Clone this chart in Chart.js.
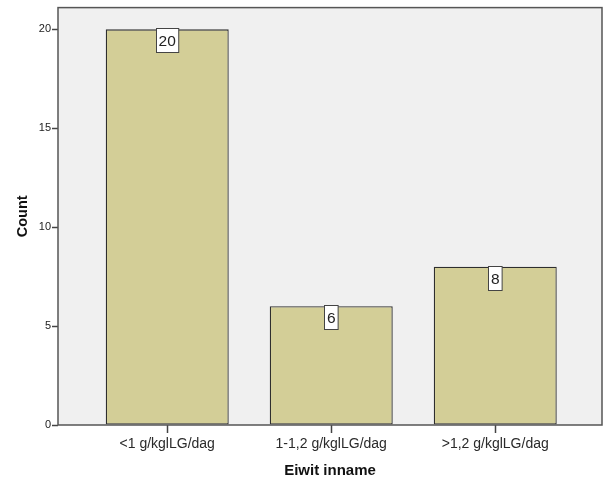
<!DOCTYPE html>
<html>
<head>
<meta charset="utf-8">
<script src="https://cdn.jsdelivr.net/npm/chart.js@4/dist/chart.umd.min.js"></script>
<style>
  html, body { margin: 0; padding: 0; background: #fff; }
  canvas { display: block; }
</style>
</head>
<body>
<canvas id="chart" width="606" height="480"></canvas>
<script>
// Data
const categories = ['<1 g/kglLG/dag', '1-1,2 g/kglLG/dag', '>1,2 g/kglLG/dag'];
const counts = [20, 6, 8];
const yTicks = [0, 5, 10, 15, 20];

const FONT = "'Liberation Sans', Arial, sans-serif";

// Gray plot background and frame, like SPSS output
const framePlugin = {
  id: 'frame',
  beforeDatasetsDraw(chart) {
    const { ctx, chartArea: a } = chart;
    ctx.save();
    ctx.fillStyle = '#f0f0f0';
    ctx.fillRect(a.left, a.top, a.right - a.left, a.bottom - a.top);
    ctx.restore();
  },
  afterDatasetsDraw(chart) {
    const { ctx, chartArea: a } = chart;
    ctx.save();
    ctx.strokeStyle = '#555';
    ctx.lineWidth = 1.5;
    ctx.strokeRect(a.left, a.top, a.right - a.left, a.bottom - a.top);
    ctx.restore();
  }
};

// White boxed value labels at the top of each bar
const labelPlugin = {
  id: 'boxLabels',
  afterDatasetsDraw(chart) {
    const { ctx } = chart;
    const meta = chart.getDatasetMeta(0);
    ctx.save();
    ctx.font = '15.5px ' + FONT;
    ctx.textAlign = 'center';
    ctx.textBaseline = 'middle';
    meta.data.forEach((bar, i) => {
      const txt = String(counts[i]);
      const w = ctx.measureText(txt).width + 5;
      const h = 24;
      const x = Math.round(bar.x - w / 2) + 0.5;
      const y = Math.round(bar.y) - 0.5;
      ctx.fillStyle = '#fff';
      ctx.fillRect(x, y, w, h);
      ctx.strokeStyle = '#444';
      ctx.lineWidth = 1;
      ctx.strokeRect(x, y, w, h);
      ctx.fillStyle = '#222';
      ctx.fillText(txt, bar.x, y + h / 2 + 1);
    });
    ctx.restore();
  }
};

new Chart(document.getElementById('chart').getContext('2d'), {
  type: 'bar',
  data: {
    datasets: [{
      data: categories.map((c, i) => ({ x: i, y: counts[i] })),
      backgroundColor: '#d3ce97',
      borderColor: '#2e2e2e',
      borderWidth: 1.3,
      borderSkipped: false,
      categoryPercentage: 1,
      barPercentage: 0.75
    }]
  },
  options: {
    responsive: false,
    animation: false,
    devicePixelRatio: 1,
    layout: { padding: { top: 7, right: 4, left: 0, bottom: 0 } },
    plugins: { legend: { display: false }, tooltip: { enabled: false } },
    scales: {
      x: {
        type: 'linear',
        offset: false,
        min: -0.666,
        max: 2.651,
        afterBuildTicks: s => { s.ticks = categories.map((c, i) => ({ value: i })); },
        afterFit: s => { s.height = 55; },
        ticks: {
          callback: v => categories[v],
          font: { family: FONT, size: 14 },
          color: '#2a2a2a',
          padding: 3,
          maxRotation: 0,
          autoSkip: false
        },
        grid: { offset: false, drawOnChartArea: false, tickLength: 8, color: '#444', tickWidth: 1.5 },
        border: { display: false },
        title: {
          display: true,
          text: 'Eiwit inname',
          font: { family: FONT, size: 15, weight: 'bold' },
          color: '#111',
          padding: { top: 5, bottom: 0 }
        }
      },
      y: {
        min: 0,
        max: 21.1,
        afterBuildTicks: s => { s.ticks = yTicks.map(v => ({ value: v })); },
        afterFit: s => { s.width = 58; },
        ticks: {
          font: { family: FONT, size: 11 },
          color: '#222',
          padding: 1
        },
        grid: { drawOnChartArea: false, tickLength: 6, color: '#444', tickWidth: 1.5 },
        border: { display: false },
        title: {
          display: true,
          text: 'Count',
          font: { family: FONT, size: 14.5, weight: 'bold' },
          color: '#111',
          padding: { top: 14, bottom: 0 }
        }
      }
    }
  },
  plugins: [framePlugin, labelPlugin]
});
</script>
</body>
</html>
